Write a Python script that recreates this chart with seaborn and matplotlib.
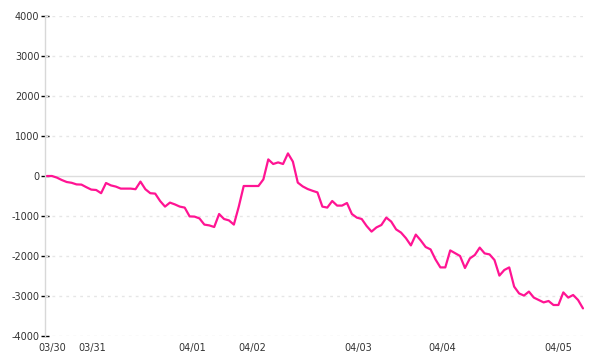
import matplotlib
matplotlib.use("Agg")
import matplotlib.pyplot as plt
import seaborn as sns
import pandas as pd
import numpy as np

values = [
    0, 0, -40, -100, -150, -170, -210, -215, -280, -340,
    -350, -430, -175, -235, -265, -315, -315, -315, -330, -140,
    -330, -430, -440, -625, -765, -665, -710, -765, -790, -1010,
    -1015, -1060, -1215, -1235, -1275, -950, -1075, -1110, -1215, -765,
    -250, -250, -250, -250, -85, 415, 300, 340, 300, 565,
    360, -165, -260, -325, -370, -410, -765, -790, -625, -740,
    -740, -675, -950, -1040, -1075, -1250, -1390, -1285, -1225, -1040,
    -1140, -1335, -1415, -1555, -1735, -1465, -1610, -1775, -1835, -2085,
    -2285, -2285, -1860, -1930, -2000, -2300, -2060, -1975, -1790, -1935,
    -1960, -2100, -2490, -2350, -2285, -2765, -2935, -2990, -2890, -3040,
    -3100, -3160, -3125, -3225, -3225, -2910, -3040, -2975, -3100, -3310,
]
tick_labels = ["03/30", "03/31", "04/01", "04/02", "04/03", "04/04", "04/05"]
tick_index = [1.0, 9.2, 29.5, 41.7, 63.2, 80.3, 103.9]
y_ticks = [4000, 3000, 2000, 1000, 0, -1000, -2000, -3000, -4000]

df = pd.DataFrame({"idx": np.arange(len(values)), "value": values})

sns.set_theme(style="white")
plt.rcParams["font.family"] = ["DejaVu Sans"]

fig = plt.figure(figsize=(6, 3.6), dpi=100)
ax = fig.add_axes([45 / 600, 24 / 360, 540 / 600, 320 / 360])

for yv in y_ticks:
    if yv == 0:
        ax.axhline(yv, color="#dddddd", lw=1.0, zorder=1)
    else:
        ax.axhline(yv, color="#e6e6e6", lw=1.0, ls=(0, (2, 3)), zorder=1)

sns.lineplot(data=df, x="idx", y="value", ax=ax, color="#ff1493", lw=1.6, zorder=3)

ax.set_xlim(-0.41, len(values) - 1 + 0.41)
ax.set_ylim(-4000, 4000)
ax.set_yticks(y_ticks)
ax.set_yticklabels([str(v) for v in y_ticks], fontsize=7, color="#333333")
ax.set_xticks(tick_index)
ax.set_xticklabels(tick_labels, fontsize=7, color="#333333")
ax.tick_params(axis="x", length=0, pad=5)
ax.tick_params(axis="y", direction="inout", length=6, width=1, color="#000000", pad=1, left=True)
ax.set_xlabel("")
ax.set_ylabel("")
for s in ["top", "right", "bottom"]:
    ax.spines[s].set_visible(False)
ax.spines["left"].set_color("#d8d8d8")
ax.spines["left"].set_linewidth(1.0)
ax.set_facecolor("white")

fig.savefig("out.png", dpi=100, facecolor="white")
